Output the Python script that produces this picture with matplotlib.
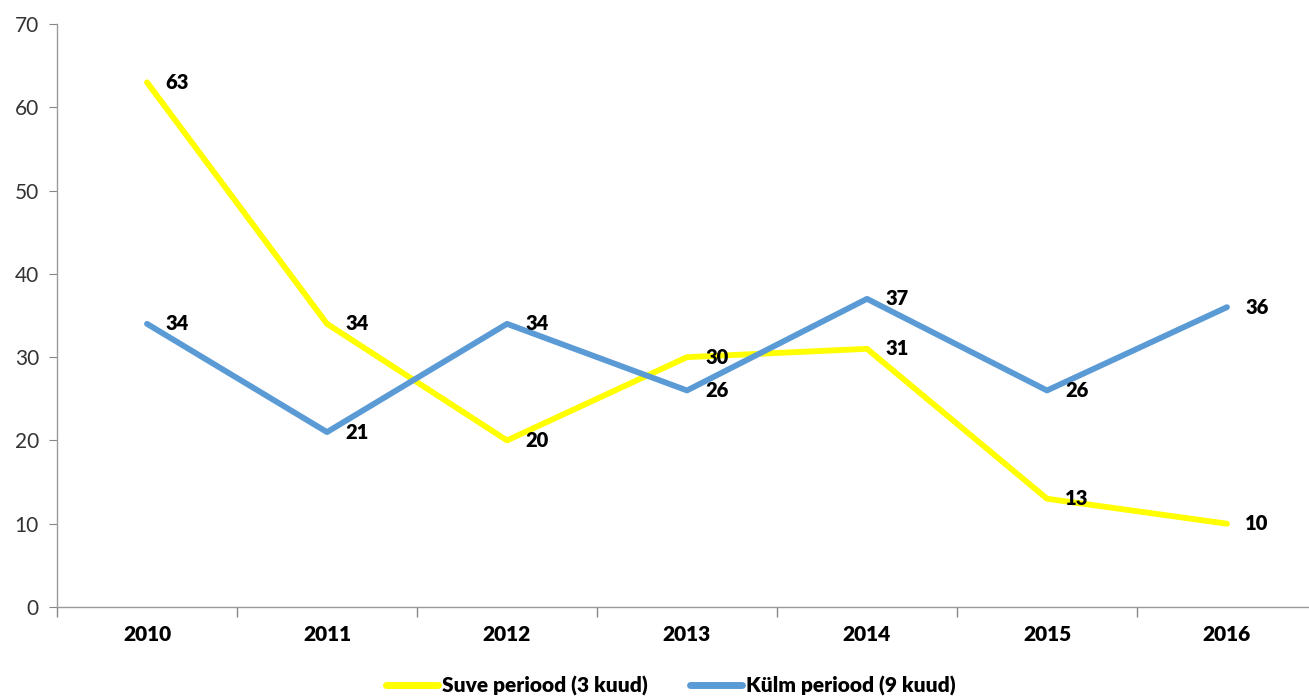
import numpy as np
import matplotlib.pyplot as plt
from matplotlib.ticker import MultipleLocator, FixedLocator

plt.rcParams['font.family'] = ['Lato', 'DejaVu Sans']

years = ['2010', '2011', '2012', '2013', '2014', '2015', '2016']
suve = [63, 34, 20, 30, 31, 13, 10]
kulm = [34, 21, 34, 26, 37, 26, 36]

fig = plt.figure(figsize=(13.09, 6.97), dpi=100)
ax = fig.add_axes([57/1309, 1 - 607/697, 1260/1309, 583/697])

x = np.arange(len(years))
ax.plot(x, suve, color='#FFFF00', lw=4.2, solid_capstyle='round',
        label='Suve periood (3 kuud)', zorder=3)
ax.plot(x, kulm, color='#5B9BD5', lw=4.2, solid_capstyle='round',
        label='Külm periood (9 kuud)', zorder=3)

for xi, v in zip(x, suve):
    ax.annotate(str(v), (xi, v), xytext=(13, 0), textcoords='offset points',
                va='center', ha='left', fontsize=14.5, fontweight='heavy', zorder=4)
for xi, v in zip(x, kulm):
    ax.annotate(str(v), (xi, v), xytext=(13, 0), textcoords='offset points',
                va='center', ha='left', fontsize=14.5, fontweight='heavy', zorder=4)

ax.set_xlim(-0.5, 6.5)
ax.set_ylim(0, 70)
ax.yaxis.set_major_locator(MultipleLocator(10))
ax.set_xticks(x)
ax.set_xticklabels(years, fontsize=15, fontweight='heavy')
ax.xaxis.set_minor_locator(FixedLocator(np.arange(-0.5, 7, 1)))
ax.tick_params(axis='x', which='major', length=0, pad=13)
ax.tick_params(axis='x', which='minor', length=7, color='#888888', width=1)
ax.tick_params(axis='y', length=6, color='#888888', labelsize=15,
               labelcolor='#333333', pad=7)

for s in ['top', 'right']:
    ax.spines[s].set_visible(False)
for s in ['left', 'bottom']:
    ax.spines[s].set_color('#999999')
    ax.spines[s].set_linewidth(1)

leg = fig.legend(loc='center', bbox_to_anchor=(0.5126, 1 - 686/697), ncol=2,
                 frameon=False, prop={'size': 15, 'weight': 'heavy'},
                 handlelength=2.5, handletextpad=0.2, columnspacing=2.0)
for h in leg.get_lines():
    h.set_linewidth(5)

fig.savefig('out.png', dpi=100)
